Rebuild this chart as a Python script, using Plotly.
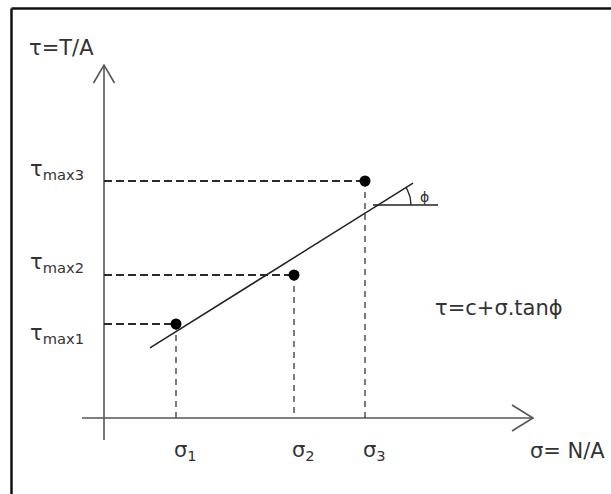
import math
import plotly.graph_objects as go

# Direct shear tests: normal stress and peak shear stress of each specimen
sigma = [7.2, 19.0, 26.1]
tau_max = [9.4, 14.3, 23.7]
sigma_labels = ["σ<sub>1</sub>", "σ<sub>2</sub>", "σ<sub>3</sub>"]
tau_labels = ["τ<sub>max1</sub>", "τ<sub>max2</sub>", "τ<sub>max3</sub>"]

# Mohr-Coulomb failure envelope  τ = c + σ·tanϕ
cohesion = 4.12
tan_phi = 0.627
envelope_sigma = [4.6, 30.9]

# Axis titles and formula
y_title = "τ=T/A"
x_title = "σ= N/A"
formula = "τ=c+σ.tanϕ"
angle_label = "ϕ"

W, H = 611, 494
X_RANGE = [-10.4, 50.7]
Y_RANGE = [-7.6, 41.8]

INK = "#222222"
AXIS = "#555555"
TEXT = "#333333"
FONT = "DejaVu Sans"

fig = go.Figure()


def seg(xs, ys, color=INK, width=1.5, dash="solid"):
    fig.add_trace(go.Scatter(x=xs, y=ys, mode="lines",
                             line=dict(color=color, width=width, dash=dash),
                             hoverinfo="skip", showlegend=False))


# coordinate axes with open arrowheads
x_end, y_end = 42.9, 35.3
seg([-2.2, x_end], [0, 0], AXIS, 1.6)
seg([0, 0], [-2.2, y_end], AXIS, 1.6)
seg([x_end - 2.1, x_end, x_end - 2.1], [1.3, 0, -1.3], AXIS, 1.6)
seg([-1.05, 0, 1.05], [y_end - 1.8, y_end, y_end - 1.8], AXIS, 1.6)

# dashed projections of each test point onto both axes
for s, t in zip(sigma, tau_max):
    seg([0, s], [t, t], "#2a2a2a", 2.0, "8px,4px")
    seg([s, s], [t, 0], "#444444", 1.4, "6px,5px")

# failure envelope
env_tau = [cohesion + s * tan_phi for s in envelope_sigma]
seg(envelope_sigma, env_tau, INK, 1.5)

# friction angle: horizontal reference, arc and label
phi = math.atan(tan_phi)
tau_ref = 21.3
sigma_c = (tau_ref - cohesion) / tan_phi
seg([sigma_c - 0.5, sigma_c + 6.0], [tau_ref, tau_ref], INK, 1.3)
r = 3.3
angs = [phi * k / 20 for k in range(21)]
seg([sigma_c + r * math.cos(a) for a in angs],
    [tau_ref + r * math.sin(a) for a in angs], INK, 1.3)

# test points
fig.add_trace(go.Scatter(x=sigma, y=tau_max, mode="markers",
                         marker=dict(color="#000000", size=11),
                         hoverinfo="skip", showlegend=False))

ann = []
for s, lab in zip(sigma, sigma_labels):
    ann.append(dict(x=s + 0.9, y=-3.3, text=lab, xanchor="center",
                    yanchor="middle", font=dict(size=21)))
tau_offsets = [-1.0, 1.2, 1.1]
for t, lab, off in zip(tau_max, tau_labels, tau_offsets):
    ann.append(dict(x=-7.6, y=t + off, text=lab, xanchor="left",
                    yanchor="middle", font=dict(size=21)))
ann.append(dict(x=-7.7, y=37.0, text=y_title, xanchor="left",
                yanchor="middle", font=dict(size=21)))
ann.append(dict(x=42.4, y=-3.3, text=x_title, xanchor="left",
                yanchor="middle", font=dict(size=21)))
ann.append(dict(x=32.9, y=11.0, text=formula, xanchor="left",
                yanchor="middle", font=dict(size=21)))
ann.append(dict(x=32.0, y=22.1, text=angle_label, xanchor="center",
                yanchor="middle", font=dict(size=14)))
for a in ann:
    a.update(showarrow=False, xref="x", yref="y")
    a["font"].update(family=FONT, color=TEXT)

# frame along the top and left edges
fig.add_shape(type="line", xref="paper", yref="paper",
              x0=11.5 / W, x1=1.05, y0=1 - 8.5 / H, y1=1 - 8.5 / H,
              line=dict(color="#111111", width=2.5))
fig.add_shape(type="line", xref="paper", yref="paper",
              x0=11.5 / W, x1=11.5 / W, y0=-0.05, y1=1 - 8.5 / H,
              line=dict(color="#111111", width=2.5))

fig.update_layout(
    width=W, height=H, margin=dict(l=0, r=0, t=0, b=0),
    paper_bgcolor="white", plot_bgcolor="white",
    xaxis=dict(range=X_RANGE, visible=False, fixedrange=True),
    yaxis=dict(range=Y_RANGE, visible=False, fixedrange=True),
    annotations=ann, showlegend=False,
)

fig.write_html("out.html", config=dict(displayModeBar=False))
